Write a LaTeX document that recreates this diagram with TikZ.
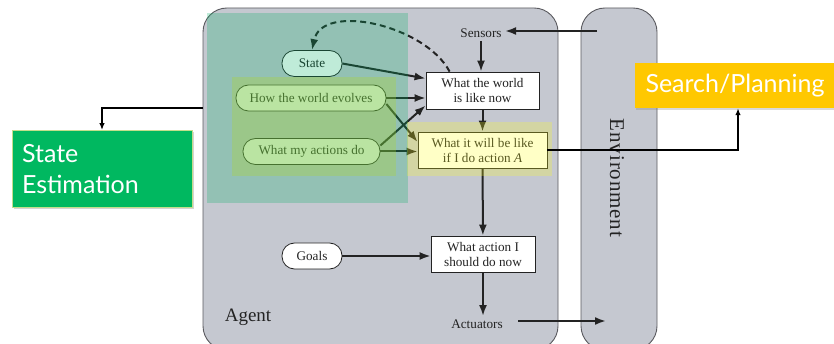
\documentclass[tikz,border=0pt]{standalone}
\usepackage{fontspec}
\setmainfont{Liberation Serif}
\newfontfamily\handfont{Lato}
\usetikzlibrary{arrows.meta,calc,shadows}

\definecolor{agentgray}{RGB}{197,200,208}
\definecolor{framegray}{RGB}{90,90,95}
\definecolor{inkgray}{RGB}{35,35,35}
\definecolor{tealwash}{RGB}{0,176,100}
\definecolor{limewash}{RGB}{175,215,40}
\definecolor{yellowwash}{RGB}{255,255,30}
\definecolor{seGreen}{RGB}{0,184,96}
\definecolor{seEdge}{RGB}{196,222,140}
\definecolor{spGold}{RGB}{255,200,0}

\begin{document}
\begin{tikzpicture}[x=1pt,y=-1pt,
  txt/.style={font=\fontsize{13.2}{15}\selectfont, text=inkgray},
  pill/.style={txt, draw=inkgray, line width=0.8pt, fill=white,
    rounded corners=12.5pt, inner sep=0pt, minimum height=26pt},
  infobox/.style={txt, draw=inkgray, line width=0.8pt, fill=white,
    inner sep=0pt, minimum height=36pt, align=center},
  flow/.style={draw=inkgray, line width=2pt, -{Latex[length=11pt,width=8pt]}},
  link/.style={draw=black, line width=1.8pt, -{Latex[length=7pt,width=5.5pt]}},
  callout/.style={font=\handfont\fontsize{25}{31}\selectfont, text=white,
    align=left, inner sep=0pt},
  panel/.style={fill=agentgray, draw=framegray, line width=0.9pt, rounded corners=24pt}
]
\useasboundingbox (0,0) rectangle (834,344);
\clip (0,0) rectangle (834,344);

% agent and environment panels
\path[panel] (203,350) -- (203,8) -- (558,8) -- (558,350) -- cycle;
\path[panel] (581,350) -- (581,8) -- (657,8) -- (657,350) -- cycle;

% agent internals
\node[pill, minimum width=60pt]  (state) at (312,63.5)  {State};
\node[pill, minimum width=150pt] (how)   at (311,98)    {How the world evolves};
\node[pill, minimum width=137pt] (acts)  at (311.5,151.5) {What my actions do};
\node[pill, minimum width=60pt]  (goals) at (312,256)   {Goals};
\node[infobox, minimum width=113pt, minimum height=37pt] (world) at (482.5,90.5)
  {What the world\\is like now};
\node[infobox, minimum width=129pt] (will) at (482.5,150)
  {What it will be like\\if I do action \textit{A}};
\node[infobox, minimum width=104pt] (act) at (483,254)
  {What action I\\should do now};
\node[txt] (sensors)   at (481,33)  {Sensors};
\node[txt] (actuators) at (477,324) {Actuators};
\node[font=\fontsize{19}{22}\selectfont, text=inkgray] (agent) at (248,317) {Agent};
\node[font=\fontsize{21}{24}\selectfont\addfontfeatures{LetterSpace=4}, text=inkgray,
  rotate=-90] (env) at (617,178) {Environment};

\coordinate (percept) at (597,31);
\coordinate (effect) at (606,321);
\coordinate (effectstart) at ([xshift=12pt]actuators.east);
\coordinate (agentside) at (203,108);

% information flow
\draw[flow] (percept) -- (percept -| sensors.east);
\draw[flow] (sensors.south) -- (sensors.south |- world.north);
\draw[flow] (world) -- (will);
\draw[flow] (will) -- (act);
\draw[flow] (act.south) -- (act.south |- actuators.north);
\draw[flow] (goals.east) -- (goals.east -| act.west);
\draw[flow] (state.east) -- ([yshift=12pt]world.west);
\draw[flow] (how.east) -- (how.east -| world.west);
\draw[flow] ([yshift=-6pt]how.east) -- ([yshift=8pt]will.west);
\draw[flow] ([yshift=6pt]acts.east) -- ([yshift=-15pt]world.west);
\draw[flow] (acts.east) -- (acts.east -| will.west);
\draw[flow] (effectstart |- effect) -- (effect);
\draw[flow, dash pattern=on 6pt off 4pt] ([xshift=24pt]world.north west)
  .. controls (425,25) and (322,2) .. (state.north);

% highlighted regions
\fill[tealwash, opacity=0.25] (207,13) rectangle (408,203);
\fill[limewash, opacity=0.3] (232,77) rectangle (396,176);
\fill[yellowwash, opacity=0.25] (407,122) rectangle (552,176);

% callouts
\node[callout, fill=seGreen, draw=seEdge, line width=0.8pt,
  minimum width=180pt, minimum height=77pt, text width=160pt,
  drop shadow={shadow xshift=2pt, shadow yshift=-2pt, opacity=0.35}]
  (se) at (102,169) {State\\Estimation};
\node[callout, fill=spGold, minimum width=200pt, minimum height=45pt, align=center,
  drop shadow={shadow xshift=1pt, shadow yshift=-2pt, opacity=0.3}]
  (sp) at (735,85.5) {Search/Planning};

\draw[link] (agentside) -| (se.north);
\draw[link] (will.east) -| ([xshift=3pt]sp.south);
\end{tikzpicture}
\end{document}
